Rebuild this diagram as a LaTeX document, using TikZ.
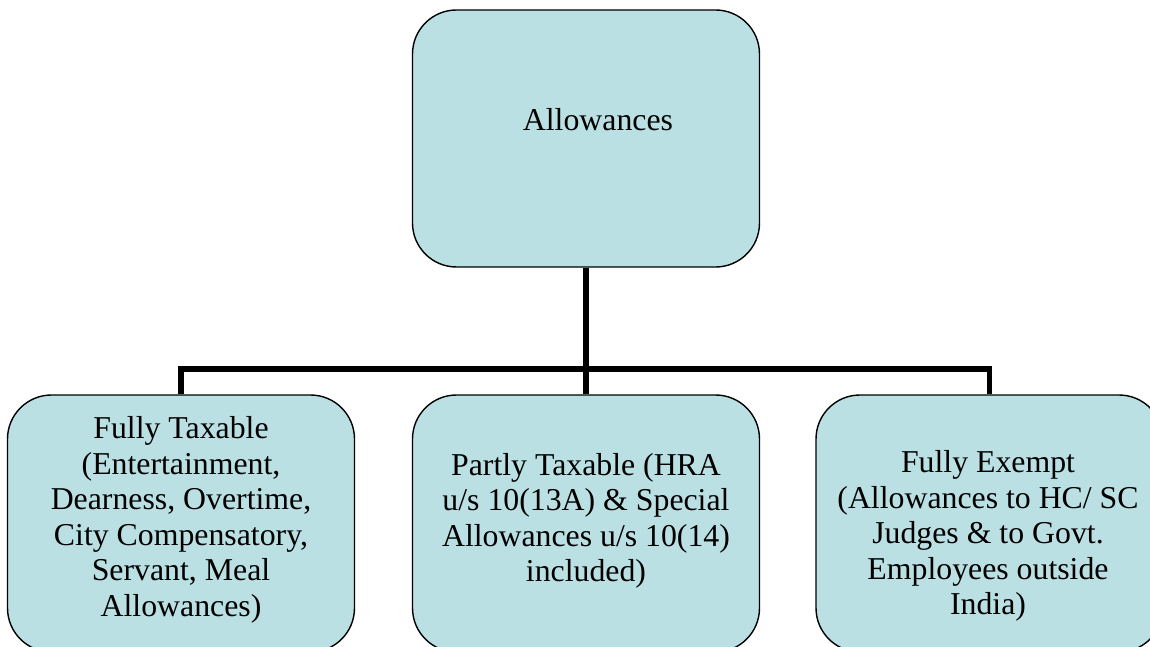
\documentclass[tikz,border=0pt]{standalone}
\usepackage{fontspec}
\setmainfont{Liberation Serif}
\usetikzlibrary{backgrounds}
\definecolor{boxfill}{HTML}{BBE0E3}
\tikzset{
  box/.style={draw=black, line width=1.4pt, fill=boxfill, rounded corners=44pt,
              minimum width=347pt, minimum height=257pt, inner sep=0pt},
  txt/.style={align=center, inner sep=0pt, font=\fontsize{31.8}{35.5}\selectfont},
  conn/.style={draw=black, line width=5.8pt, line join=miter}
}
\begin{document}
\begin{tikzpicture}[x=1pt, y=-1pt]
  \useasboundingbox (0,0) rectangle (1150,647);
  \clip (0,0) rectangle (1150,647);

  % boxes
  \coordinate (bus) at (586,369);
  \node[box] (root)   at (586,138.5) {};
  \node[box] (full)   at (181,523.5) {};
  \node[box] (partly) at (586,523.5) {};
  \node[box] (exempt) at (989.5,523.5) {};

  % connectors, kept behind the boxes
  \begin{scope}[on background layer]
    \draw[conn] (root.south) -- (partly.north);
    \draw[conn] (full.north) -- (full.north |- bus)
          -- (exempt.north |- bus) -- (exempt.north);
  \end{scope}

  % labels
  \node[txt] (rootT) at (598,120) {Allowances};
  \node[txt] (fullT) at (181,520) {Fully Taxable\\(Entertainment,\\Dearness, Overtime,\\City Compensatory,\\Servant, Meal\\Allowances)};
  \node[txt] (partlyT) at (586,521) {Partly Taxable (HRA\\u/s 10(13A) \& Special\\Allowances u/s 10(14)\\included)};
  \node[txt] (exemptT) at (988,536) {Fully Exempt\\(Allowances to HC/ SC\\Judges \& to Govt.\\Employees outside\\India)};
\end{tikzpicture}
\end{document}
